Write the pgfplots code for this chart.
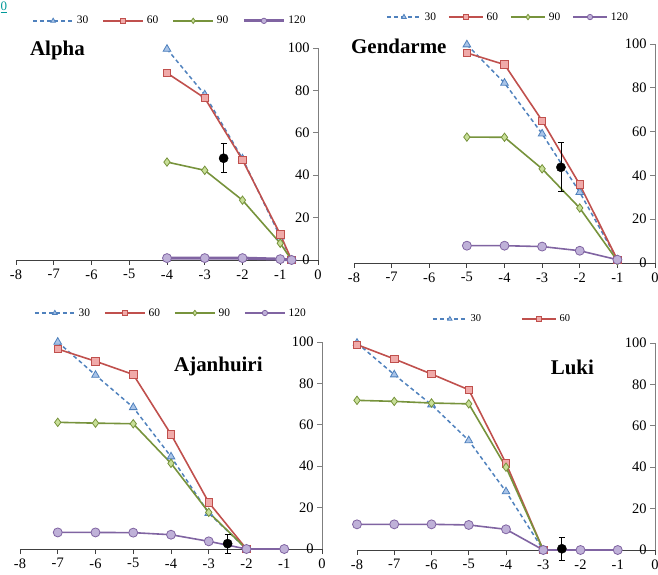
\documentclass[border=0pt]{standalone}
\usepackage{pgfplots}
\pgfplotsset{compat=1.18}
\usepackage{fontspec}
\setmainfont{Liberation Serif}
\definecolor{cblue}{HTML}{4F81BD}
\definecolor{cbluefill}{HTML}{A9C4E8}
\definecolor{cred}{HTML}{C0504D}
\definecolor{credfill}{HTML}{F0AAA9}
\definecolor{cgreen}{HTML}{77933C}
\definecolor{cgreenfill}{HTML}{C8DF98}
\definecolor{cpurple}{HTML}{8064A2}
\definecolor{cpurplefill}{HTML}{BFB1D8}
\definecolor{axgray}{HTML}{7F7F7F}
\tikzset{ttl/.style={font=\fontsize{21}{24}\selectfont\bfseries, anchor=west, inner sep=0pt}}
\pgfplotsset{
  panel/.style={
    scale only axis, xmin=-8, xmax=0, ymin=0, ymax=100,
    axis x line=bottom, axis y line=right,
    x axis line style={-, draw=black!75, line width=0.9bp},
    y axis line style={-, draw=axgray, line width=0.9bp},
    xtick={-8,-7,...,0}, ytick={0,20,...,100},
    xtick align=outside, ytick align=inside,
    major tick length=5bp,
    x tick style={black!75, line width=0.9bp},
    y tick style={axgray, line width=0.9bp},
    yticklabel style={anchor=east, xshift=-5bp},
    xticklabel style={yshift=-1bp},
    tick label style={font=\fontsize{14.5}{16}\selectfont},
    /pgf/number format/assume math mode=true,
    clip=false,
    legend style={draw=none, fill=none, font=\fontsize{11.5}{13}\selectfont,
      /tikz/every odd column/.append style={column sep=1bp},
      /tikz/every even column/.append style={column sep=12bp}},
    legend columns=4,
    legend image code/.code={\draw[mark repeat=2,mark phase=2,##1,mark size=2.7bp] plot coordinates {(0bp,0bp) (20bp,0bp) (40bp,0bp)};},
  },
  s30/.style={color=cblue, dash pattern=on 4bp off 3bp, line width=1.5bp, mark=triangle*, mark size=4.4bp, mark options={solid, fill=cbluefill, draw=cblue, line width=0.8bp}},
  s60/.style={color=cred, line width=1.6bp, mark=square*, mark size=3.7bp, mark options={solid, fill=credfill, draw=cred, line width=0.8bp}},
  s90/.style={color=cgreen, line width=1.6bp, mark=diamond*, mark size=4.2bp, mark options={solid, fill=cgreenfill, draw=cgreen, line width=0.8bp}},
  s120/.style={color=cpurple, line width=1.6bp, mark=*, mark size=4.5bp, mark options={solid, fill=cpurplefill, draw=cpurple, line width=0.8bp}},
  sdot/.style={black, only marks, mark=*, mark size=4.6bp, forget plot,
    error bars/.cd, y dir=both, y explicit,
    error bar style={black, line width=0.8bp},
    error mark options={rotate=90, black, mark size=3bp, line width=0.8bp}},
}
\begin{document}
\begin{tikzpicture}
% Alpha
\begin{axis}[panel, at={(16bp,315bp)}, anchor=south west, width=302bp, height=212bp,
  legend style={at={(0.51,1.128)}, anchor=center}]
\addplot[s30] coordinates {(-4,99.5) (-3,78) (-2,47.8) (-1,11) (-0.7,0)};
\addlegendentry{30}
\addplot[s60] coordinates {(-4,88.2) (-3,76.4) (-2,47.2) (-1,12.1) (-0.7,0)};
\addlegendentry{60}
\addplot[s90] coordinates {(-4,46.2) (-3,42.3) (-2,28.2) (-1,7.9) (-0.7,0)};
\addlegendentry{90}
\addplot[s120, line width=3bp] coordinates {(-4,0.9) (-3,0.9) (-2,0.9) (-1,0.4) (-0.7,0)};
\addlegendentry{120}
\addplot[sdot] coordinates {(-2.5,48) +- (0,6.9)};
\node[ttl] at (rel axis cs:0.046,0.99) {Alpha};
\end{axis}
% Gendarme
\begin{axis}[panel, at={(354bp,312bp)}, anchor=south west, width=301bp, height=219bp,
  legend style={at={(0.512,1.123)}, anchor=center,
    /tikz/every even column/.append style={column sep=10bp}},
  legend image code/.code={\draw[mark repeat=2,mark phase=2,#1,mark size=2.7bp] plot coordinates {(0bp,0bp) (17bp,0bp) (34bp,0bp)};}]
\addplot[s30] coordinates {(-5,99.7) (-4,82.2) (-3,59) (-2,32.3) (-1,1.5)};
\addlegendentry{30}
\addplot[s60] coordinates {(-5,95.9) (-4,90.6) (-3,65) (-2,35.8) (-1,1.5)};
\addlegendentry{60}
\addplot[s90] coordinates {(-5,57.5) (-4,57.4) (-3,43) (-2,25.1) (-1,1)};
\addlegendentry{90}
\addplot[s120] coordinates {(-5,7.9) (-4,7.9) (-3,7.5) (-2,5.6) (-1,1.5)};
\addlegendentry{120}
\addplot[sdot] coordinates {(-2.5,43.7) +- (0,11.2)};
\node[ttl] at (rel axis cs:-0.01,0.99) {Gendarme};
\end{axis}
% Ajanhuiri
\begin{axis}[panel, at={(20bp,26bp)}, anchor=south west, width=302bp, height=207bp,
  legend style={at={(0.50,1.14)}, anchor=center}]
\addplot[s30] coordinates {(-7,100) (-6,84) (-5,68.4) (-4,44.6) (-3,17.3) (-2,0)};
\addlegendentry{30}
\addplot[s60] coordinates {(-7,96.6) (-6,90.7) (-5,84.3) (-4,55.4) (-3,22.5) (-2,0)};
\addlegendentry{60}
\addplot[s90] coordinates {(-7,61.2) (-6,60.8) (-5,60.5) (-4,41.4) (-3,17.7) (-2,0)};
\addlegendentry{90}
\addplot[s120] coordinates {(-7,8) (-6,8) (-5,7.9) (-4,6.9) (-3,3.7) (-2,0) (-1,0)};
\addlegendentry{120}
\addplot[sdot] coordinates {(-2.5,2.6) +- (0,4.5)};
\node[ttl] at (rel axis cs:0.51,0.88) {Ajanhuiri};
\end{axis}
% Luki
\begin{axis}[panel, at={(357bp,25bp)}, anchor=south west, width=298bp, height=207bp,
  legend columns=2,
  legend style={at={(0.487,1.116)}, anchor=center, font=\fontsize{10.5}{12}\selectfont,
    /tikz/every even column/.append style={column sep=38bp}},
  legend image code/.code={\draw[mark repeat=2,mark phase=2,#1,mark size=2.5bp] plot coordinates {(0bp,0bp) (17bp,0bp) (34bp,0bp)};}]
\addplot[s30] coordinates {(-8,100) (-7,84.7) (-6,70.2) (-5,52.9) (-4,28.2) (-3,0)};
\addlegendentry{30}
\addplot[s60] coordinates {(-8,99.2) (-7,92.3) (-6,85) (-5,77.4) (-4,41.9) (-3,0)};
\addlegendentry{60}
\addplot[s90, forget plot] coordinates {(-8,72.3) (-7,71.8) (-6,71) (-5,70.6) (-4,40) (-3,0)};
\addplot[s120, forget plot] coordinates {(-8,12.4) (-7,12.4) (-6,12.4) (-5,12.1) (-4,10) (-3,0) (-2,0) (-1,0)};
\addplot[sdot] coordinates {(-2.5,0.6) +- (0,5.5)};
\node[ttl] at (rel axis cs:0.65,0.88) {Luki};
\end{axis}
\node[anchor=north west, inner sep=0pt, text=teal!80!cyan] at (0.5bp,573.5bp) {\fontsize{13}{14}\selectfont\underline{0}};
\pgfresetboundingbox
\path (0bp,0bp) rectangle (658bp,575bp);
\end{tikzpicture}
\end{document}
